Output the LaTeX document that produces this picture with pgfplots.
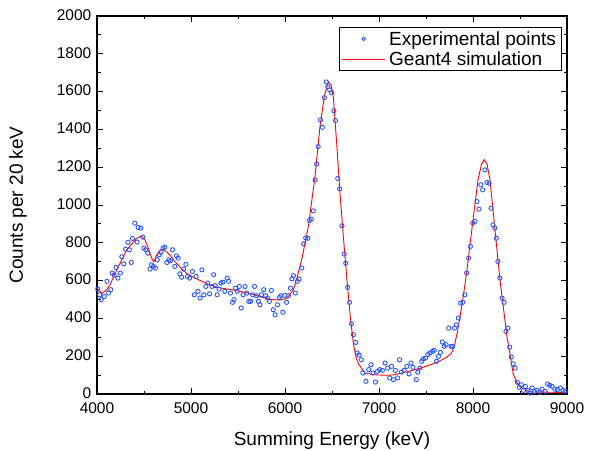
\documentclass[border=0pt]{standalone}
\usepackage{fontspec}
\setmainfont{Liberation Sans}
\usepackage{pgfplots}
\pgfplotsset{compat=1.18}
\definecolor{expblue}{RGB}{40,85,255}
\pgfplotsset{
    ptlegend/.style={legend image code/.code={\draw[##1, mark size=1.8pt] plot coordinates {(0.76cm,0cm)};}},
    linelegend/.style={legend image code/.code={\draw[##1] (0cm,0cm) -- (1.52cm,0cm);}},
}

\begin{document}
\begin{tikzpicture}
\begin{axis}[
    width=470pt, height=378pt, scale only axis,
    xmin=4000, xmax=9000, ymin=0, ymax=2000,
    xtick={4000,5000,...,9000}, ytick={0,200,...,2000},
    minor x tick num=1, minor y tick num=1,
    tick align=inside, tick pos=both,
    xticklabel pos=lower, yticklabel pos=left,
    major tick length=6pt, minor tick length=3.5pt,
    axis line style={line width=1.1pt},
    every tick/.style={line width=0.9pt, black},
    /pgf/number format/assume math mode=true,
    /pgf/number format/1000 sep={},
    tick label style={font=\fontsize{15.5}{18}\selectfont, inner sep=1pt},
    x tick label style={yshift=-7.5pt},
    y tick label style={xshift=-4.5pt, yshift=1pt},
    label style={font=\fontsize{19}{22}\selectfont},
    xlabel={Summing Energy (keV)},
    ylabel={Counts per 20 keV},
    x label style={at={(axis description cs:0.5,-0.122)}, anchor=center},
    y label style={at={(axis description cs:-0.168,0.5)}, anchor=center},
    legend style={at={(0.989,0.971)}, anchor=north east, draw=black, line width=0.6pt,
        font=\fontsize{19}{22}\selectfont, inner xsep=2pt, inner ysep=1.5pt,
        nodes={inner xsep=3.5pt, inner ysep=2.5pt}},
    legend cell align=left,
]
% experimental points
\addplot[only marks, mark=o, mark size=2.1pt, expblue, mark options={line width=0.9pt}, ptlegend] table {
x y
4008 555
4028 525
4045 499
4077 516
4106 596
4122 534
4146 552
4162 640
4183 629
4203 670
4223 613
4248 640
4264 726
4284 689
4304 766
4329 802
4345 763
4365 696
4377 823
4402 904
4426 804
4438 881
4467 878
4487 830
4499 772
4519 763
4540 745
4564 661
4580 684
4601 675
4621 666
4641 710
4662 737
4682 749
4702 772
4722 777
4743 696
4763 710
4783 705
4804 763
4828 675
4844 731
4864 719
4881 636
4901 618
4921 661
4946 686
4962 622
4986 613
5015 648
5035 525
5055 622
5075 543
5096 508
5116 657
5136 525
5157 569
5177 587
5197 530
5222 569
5241 631
5258 573
5278 525
5298 555
5319 587
5339 592
5359 543
5384 613
5400 596
5420 534
5441 485
5457 499
5473 560
5493 543
5514 569
5534 455
5554 525
5575 569
5595 534
5615 490
5635 490
5656 525
5676 569
5696 520
5717 490
5733 472
5749 525
5774 552
5794 520
5814 508
5834 490
5855 548
5875 446
5895 419
5920 472
5940 511
5956 520
5977 433
5997 522
6017 485
6037 520
6058 560
6074 610
6090 626
6110 534
6131 596
6151 608
6179 666
6199 795
6220 826
6244 824
6260 918
6280 925
6301 969
6321 1133
6337 1216
6353 1309
6378 1450
6398 1411
6419 1568
6439 1651
6455 1626
6475 1609
6496 1595
6520 1499
6536 1447
6561 1140
6581 1085
6606 890
6630 740
6646 692
6666 564
6687 485
6707 372
6727 314
6752 273
6768 217
6789 206
6813 181
6829 111
6861 67
6890 129
6914 155
6934 111
6963 63
6983 120
7007 129
7036 125
7064 164
7092 137
7113 85
7133 146
7153 76
7174 125
7198 85
7218 181
7239 116
7267 125
7296 146
7320 106
7340 164
7361 141
7397 76
7413 115
7434 137
7454 173
7470 185
7495 190
7519 208
7543 217
7568 226
7588 231
7612 173
7633 199
7653 220
7673 275
7694 252
7714 261
7742 349
7767 252
7783 252
7803 349
7823 366
7844 402
7868 481
7892 485
7913 525
7933 640
7953 719
7973 781
7998 904
8022 913
8042 1018
8063 978
8083 1107
8103 1080
8127 1186
8148 1119
8172 1115
8192 983
8212 895
8233 878
8249 824
8265 701
8286 613
8310 507
8330 485
8350 331
8371 349
8391 248
8407 196
8427 160
8448 137
8472 62
8492 35
8513 49
8537 19
8557 40
8581 19
8605 5
8630 32
8654 14
8682 19
8710 9
8735 26
8767 14
8793 53
8817 46
8841 40
8870 26
8898 23
8930 32
8958 19
8982 14
};
\addlegendentry{Experimental points}
% simulation
\addplot[red, line width=0.9pt, mark=none, linelegend] table {
x y
4000 559
4053 533
4100 550
4138 577
4227 674
4316 762
4404 815
4440 830
4475 834
4511 815
4540 780
4564 744
4585 715
4606 700
4630 730
4652 750
4680 763
4706 765
4740 752
4777 735
4830 700
4883 672
4950 640
5025 618
5100 600
5202 577
5300 562
5450 550
5600 535
5734 515
5850 500
5947 497
6018 506
6088 550
6130 620
6177 709
6248 885
6319 1150
6372 1414
6420 1580
6461 1652
6490 1635
6514 1573
6550 1326
6585 1062
6621 832
6656 621
6691 427
6727 268
6755 195
6780 162
6851 110
6976 101
7100 99
7152 101
7300 118
7436 136
7550 155
7649 175
7720 195
7770 215
7800 250
7830 320
7862 407
7900 530
7936 656
8000 921
8053 1132
8090 1215
8120 1240
8150 1215
8181 1132
8234 868
8287 603
8362 302
8426 111
8460 65
8500 37
8606 11
9000 8
};
\addlegendentry{Geant4 simulation}
\coordinate (ll) at (rel axis cs:0,0);
\coordinate (ur) at (rel axis cs:1,1);
\end{axis}
\pgfresetboundingbox
\path[use as bounding box] ([shift={(-97pt,-56pt)}]ll) rectangle ([shift={(31pt,16pt)}]ur);
\end{tikzpicture}
\end{document}
